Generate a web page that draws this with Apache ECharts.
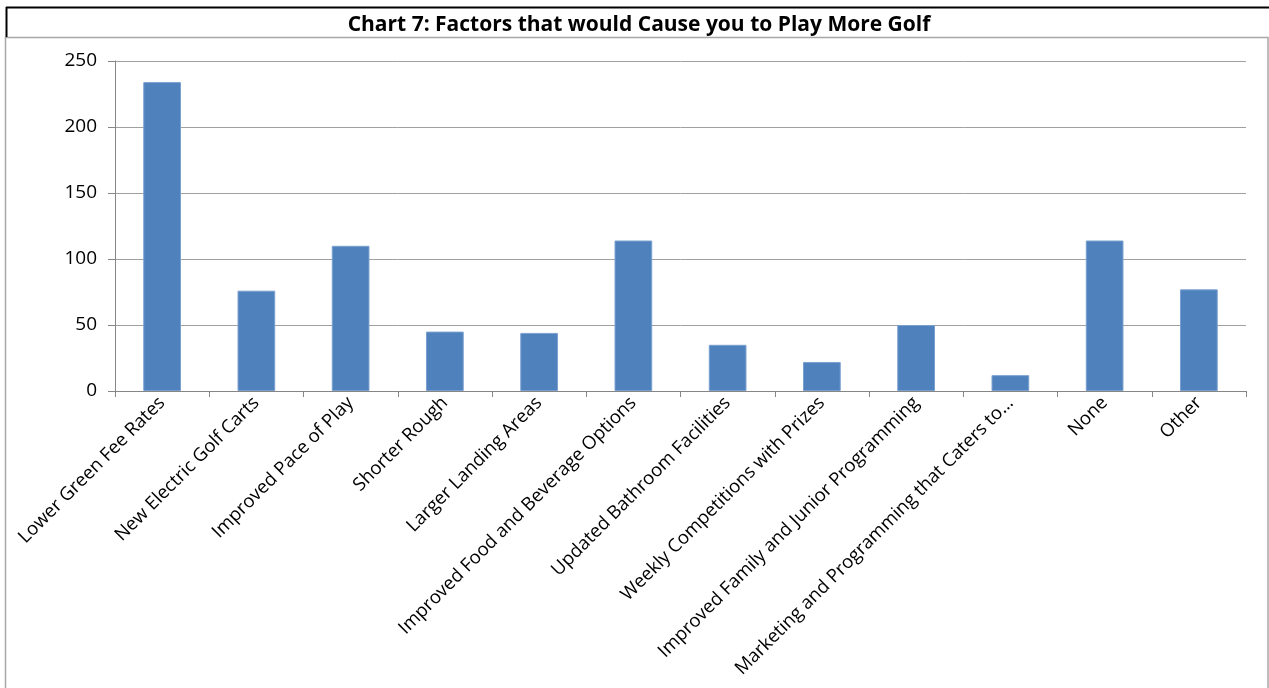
<!DOCTYPE html>
<html>
<head>
<meta charset="utf-8">
<script src="https://cdn.jsdelivr.net/npm/echarts@6/dist/echarts.min.js"></script>
<style>
html,body{margin:0;padding:0;background:#fff;}
#chart{width:1269px;height:688px;}
</style>
</head>
<body>
<div id="chart"></div>
<script>
const titleText = 'Chart 7: Factors that would Cause you to Play More Golf';
const categories = [
  'Lower Green Fee Rates',
  'New Electric Golf Carts',
  'Improved Pace of Play',
  'Shorter Rough',
  'Larger Landing Areas',
  'Improved Food and Beverage Options',
  'Updated Bathroom Facilities',
  'Weekly Competitions with Prizes',
  'Improved Family and Junior Programming',
  'Marketing and Programming that Caters to\u2026',
  'None',
  'Other'
];
const values = [234, 76, 110, 45, 44, 114, 35, 22, 50, 12, 114, 77];
const yTicks = { min: 0, max: 250, interval: 50 };

const chart = echarts.init(document.getElementById('chart'));
chart.setOption({
  animation: false,
  backgroundColor: '#fff',
  title: {
    text: titleText,
    left: 634,
    textAlign: 'center',
    top: 10,
    textStyle: { fontFamily: 'Open Sans', fontWeight: 'bold', fontSize: 21, color: '#000' }
  },
  graphic: [
    { type: 'rect', shape: { x: 5.5, y: 37.5, width: 1262.5, height: 660 }, style: { fill: 'none', stroke: '#a6a6a6', lineWidth: 1.5 }, silent: true },
    { type: 'line', shape: { x1: 6, y1: 7.5, x2: 1269, y2: 7.5 }, style: { stroke: '#000', lineWidth: 2 }, silent: true },
    { type: 'line', shape: { x1: 6.5, y1: 7, x2: 6.5, y2: 37 }, style: { stroke: '#000', lineWidth: 2 }, silent: true }
  ],
  grid: { left: 115, right: 23, top: 61, bottom: 297, containLabel: false },
  xAxis: {
    type: 'category',
    data: categories,
    boundaryGap: true,
    axisLine: { lineStyle: { color: '#868686', width: 1 } },
    axisTick: { show: true, alignWithLabel: false, length: 6, lineStyle: { color: '#868686' } },
    axisLabel: {
      interval: 0,
      rotate: 45,
      margin: 9,
      fontFamily: 'Open Sans',
      fontSize: 18.5,
      color: '#000'
    }
  },
  yAxis: {
    type: 'value',
    min: yTicks.min,
    max: yTicks.max,
    interval: yTicks.interval,
    axisLine: { show: true, lineStyle: { color: '#868686', width: 1 } },
    axisTick: { show: true, length: 7, lineStyle: { color: '#868686' } },
    splitLine: { show: true, lineStyle: { color: '#a0a0a0', width: 1 } },
    axisLabel: { fontFamily: 'Open Sans', fontSize: 19, color: '#000', margin: 18 }
  },
  series: [{
    type: 'bar',
    data: values,
    barWidth: '40%',
    itemStyle: { color: '#4F81BD', borderColor: '#7aa0cf', borderWidth: 1 }
  }]
});
</script>
</body>
</html>
